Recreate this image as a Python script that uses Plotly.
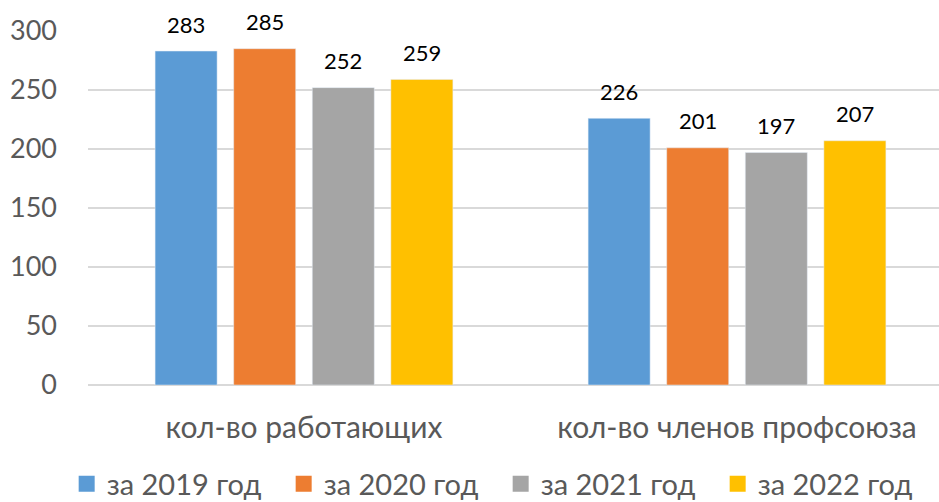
import plotly.graph_objects as go

categories = ["кол-во работающих", "кол-во членов профсоюза"]
series_names = ["за 2019 год", "за 2020 год", "за 2021 год", "за 2022 год"]
v2019 = [283, 226]
v2020 = [285, 201]
v2021 = [252, 197]
v2022 = [259, 207]
colors = ["#5B9BD5", "#ED7D31", "#A5A5A5", "#FFC000"]

values = [v2019, v2020, v2021, v2022]
FONT = "Lato, 'Open Sans', sans-serif"

fig = go.Figure()
for name, vals, col in zip(series_names, values, colors):
    fig.add_trace(go.Bar(x=categories, y=vals, name=name, marker_color=col,
                         showlegend=False, hoverinfo="y"))
    # legend entry with a bigger square
    fig.add_trace(go.Scatter(x=[None], y=[None], mode="markers", name=name,
                             marker=dict(symbol="square", size=18, color=col)))

# value labels above the bars
ann = []
slot = 78.6
for i, vals in enumerate(values):
    for cat, v in zip(categories, vals):
        ann.append(dict(x=cat, y=v, text=str(v), showarrow=False,
                        xshift=(i - 1.5) * slot, yshift=27, yanchor="middle",
                        font=dict(size=22, color="#000000", family=FONT)))

# left margin 0 + x domain so the legend can use the full width
fig.update_layout(
    width=939, height=502,
    margin=dict(l=0, r=0, t=31, b=117, autoexpand=False),
    paper_bgcolor="white", plot_bgcolor="white",
    barmode="group", bargap=0.274, bargroupgap=0.211,
    font=dict(family=FONT, size=29, color="#595959"),
    annotations=ann,
    legend=dict(orientation="h", xref="container", yref="container",
                x=0.071, xanchor="left", y=0.036, yanchor="middle",
                font=dict(size=29, color="#595959"), itemsizing="trace",
                entrywidth=172, entrywidthmode="pixels"),
)
fig.update_xaxes(domain=[88 / 939, 1], range=[-0.4988, 1.4665], showgrid=False,
                 showline=False, ticks="", tickfont=dict(size=30, color="#595959"),
                 ticklabelstandoff=22)
fig.update_yaxes(range=[0, 300], dtick=50, showgrid=True, gridcolor="#D9D9D9",
                 gridwidth=1.5, zeroline=True, zerolinecolor="#D9D9D9", zerolinewidth=1.5,
                 ticks="", tickfont=dict(size=27, color="#595959"), ticklabelstandoff=30)

# page has a default 8px body margin; drop it so the figure fills the window
fig.write_html("out.html", config={"displayModeBar": False},
               post_script="document.body.style.margin='0px';")
